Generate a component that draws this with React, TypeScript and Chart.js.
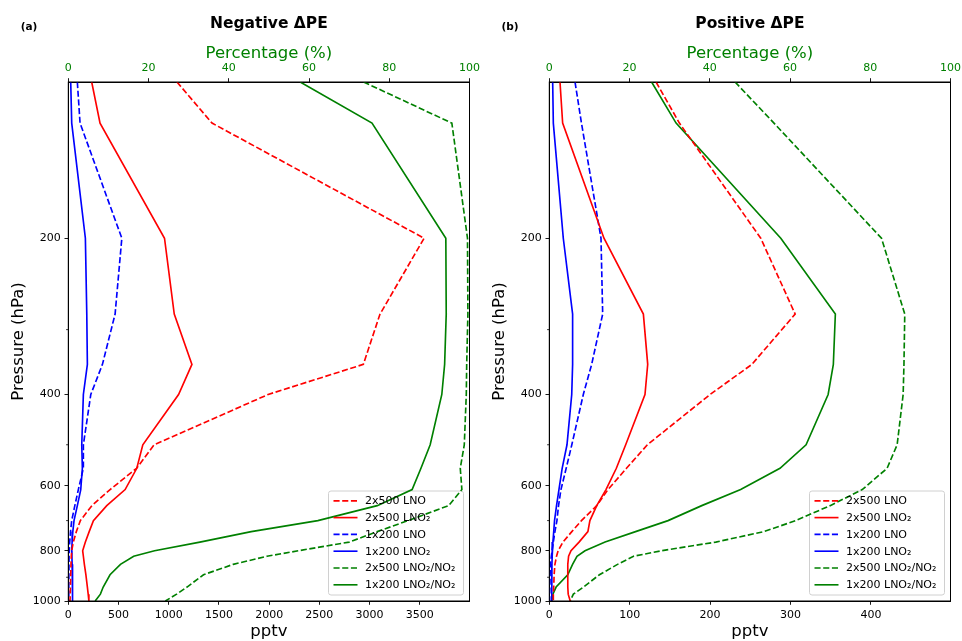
import React, { useEffect, useRef } from 'react';
import { Chart, registerables } from 'chart.js';

Chart.register(...registerables);

// Pressure levels (hPa) shared by every profile
const pressureLevels = [100, 120, 200, 280, 350, 400, 500, 555, 610, 655, 700, 735, 770, 800, 820, 850, 890, 940, 970, 1000];

// Panel (a) Negative ΔPE — pptv
const negLNO2x500 = [1082, 1431, 3543, 3104, 2938, 1990, 855, 680, 416, 235, 120, 80, 50, 34, 30, 27, 24, 21, 19, 17];
const negLNO2_2x500 = [233, 316, 958, 1055, 1231, 1098, 742, 682, 566, 383, 250, 208, 170, 143, 150, 160, 175, 190, 198, 205];
const negLNO1x200 = [90, 117, 533, 466, 340, 224, 150, 150, 100, 65, 34, 22, 14, 10, 8, 7, 6, 5, 5, 5];
const negLNO2_1x200 = [24, 34, 170, 184, 190, 150, 134, 140, 124, 90, 57, 45, 38, 34, 36, 38, 40, 42, 43, 44];
// Panel (a) — percentage
const negRatio2x500 = [73.6, 95.6, 99.5, 99.6, 99.3, 99.2, 98.7, 97.7, 98.1, 94.8, 84.7, 77, 70, 57.4, 49.5, 41.1, 33.7, 29.6, 27, 24.2];
const negRatio1x200 = [57.8, 75.7, 94.1, 94.2, 93.8, 93.1, 90.2, 87.9, 85.7, 77, 62.2, 45.6, 32.8, 21.5, 16.3, 13, 10.4, 8.7, 8, 6.7];

// Panel (b) Positive ΔPE — pptv
const posLNO2x500 = [132.8, 161.8, 263, 305.8, 252, 200, 122, 96, 73, 59, 40, 28, 17, 11, 9, 7, 6, 5.5, 5, 5];
const posLNO2_2x500 = [13.3, 16.6, 68, 117, 122.4, 119, 95, 83.4, 70.5, 59, 50.5, 48, 37, 27, 24, 23, 23, 23, 23.5, 26];
const posLNO1x200 = [32, 40, 64.3, 66.4, 52.7, 42.3, 28, 21, 14.5, 11.5, 9.5, 7, 5, 3.5, 2.5, 1.5, 1, 0.7, 0.5, 0.5];
const posLNO2_1x200 = [4.2, 5, 17.4, 29, 29, 27.9, 22, 16, 12, 9, 6.5, 5.5, 4.5, 3.7, 3.5, 3.3, 3.2, 3.1, 3, 3];
// Panel (b) — percentage
const posRatio2x500 = [46.3, 56, 82.8, 88.6, 88.4, 88.2, 86.7, 84.2, 78, 70, 61.4, 53.5, 41.5, 28, 21, 17, 12.5, 8.5, 6, 5.2];
const posRatio1x200 = [25.5, 31.6, 57.7, 71.3, 70.8, 69.5, 64, 57.5, 47.7, 38, 29.6, 21.5, 13.9, 8.9, 6.9, 5.8, 4.6, 1.7, 0.9, 0.6];

// Tick labels
const pptvTicksNeg = [0, 500, 1000, 1500, 2000, 2500, 3000, 3500];
const pptvTicksPos = [0, 100, 200, 300, 400];
const percentTicks = [0, 20, 40, 60, 80, 100];
const pressureTicks = [200, 400, 600, 800, 1000];
const pressureMinorTicks = [300, 500, 700, 900];
const seriesLabels = ['2x500 LNO', '2x500 LNO\u2082', '1x200 LNO', '1x200 LNO\u2082', '2x500 LNO\u2082/NO\u2082', '1x200 LNO\u2082/NO\u2082'];

const FONT = '"DejaVu Sans", sans-serif';
const LW = 1.65;
const DASH = [6.1, 2.6];

const seriesStyles = [
  { color: '#ff0000', dash: true, axis: 'x' },
  { color: '#ff0000', dash: false, axis: 'x' },
  { color: '#0000ff', dash: true, axis: 'x' },
  { color: '#0000ff', dash: false, axis: 'x' },
  { color: '#008000', dash: true, axis: 'x2' },
  { color: '#008000', dash: false, axis: 'x2' },
];

type PanelProps = {
  title: string;
  tag: string;
  series: number[][];
  pptvMax: number;
  pptvTicks: number[];
};

function Panel({ title, tag, series, pptvMax, pptvTicks }: PanelProps) {
  const ref = useRef<HTMLCanvasElement>(null);

  useEffect(() => {
    if (!ref.current) return;
    const datasets = series.map((vals, i) => ({
      label: seriesLabels[i],
      data: pressureLevels.map((p, k) => ({ x: vals[k], y: p })),
      borderColor: seriesStyles[i].color,
      backgroundColor: seriesStyles[i].color,
      borderWidth: LW,
      borderDash: seriesStyles[i].dash ? DASH : [],
      pointRadius: 0,
      fill: false,
      tension: 0,
      xAxisID: seriesStyles[i].axis,
      yAxisID: 'y',
    }));

    const legendBox = (ca: any) => {
      const w = 135;
      const h = 104;
      const right = ca.right - 6;
      const bottom = ca.bottom - 6;
      return { left: right - w, top: bottom - h, w, h };
    };

    const decor = {
      id: 'decor',
      beforeDatasetsDraw(chart: any) {
        const ctx = chart.ctx;
        const b = legendBox(chart.chartArea);
        ctx.save();
        ctx.beginPath();
        const r = 2.5;
        ctx.moveTo(b.left + r, b.top);
        ctx.arcTo(b.left + b.w, b.top, b.left + b.w, b.top + b.h, r);
        ctx.arcTo(b.left + b.w, b.top + b.h, b.left, b.top + b.h, r);
        ctx.arcTo(b.left, b.top + b.h, b.left, b.top, r);
        ctx.arcTo(b.left, b.top, b.left + b.w, b.top, r);
        ctx.closePath();
        ctx.fillStyle = 'rgba(255,255,255,0.8)';
        ctx.fill();
        ctx.strokeStyle = '#d0d0d0';
        ctx.lineWidth = 1;
        ctx.stroke();
        ctx.restore();
      },
      afterDraw(chart: any) {
        const ctx = chart.ctx;
        const ca = chart.chartArea;
        const cx = (ca.left + ca.right) / 2;
        ctx.save();
        // frame
        ctx.strokeStyle = '#000';
        ctx.lineWidth = 1;
        ctx.strokeRect(ca.left, ca.top, ca.right - ca.left, ca.bottom - ca.top);
        // minor ticks on pressure axis
        const ys = chart.scales.y;
        ctx.lineWidth = 0.8;
        pressureMinorTicks.forEach((p) => {
          const y = ys.getPixelForValue(p);
          ctx.beginPath();
          ctx.moveTo(ca.left, y);
          ctx.lineTo(ca.left - 2.2, y);
          ctx.stroke();
        });
        // legend handles and text
        const b = legendBox(ca);
        ctx.textBaseline = 'middle';
        ctx.textAlign = 'left';
        ctx.font = `11px ${FONT}`;
        seriesLabels.forEach((lab, i) => {
          const y = b.top + 9.8 + i * 16.8;
          ctx.beginPath();
          ctx.setLineDash(seriesStyles[i].dash ? DASH : []);
          ctx.strokeStyle = seriesStyles[i].color;
          ctx.lineWidth = LW;
          ctx.moveTo(b.left + 5, y);
          ctx.lineTo(b.left + 29, y);
          ctx.stroke();
          ctx.setLineDash([]);
          ctx.fillStyle = '#000';
          ctx.fillText(lab, b.left + 36.5, y + 0.5);
        });
        // titles
        ctx.textAlign = 'center';
        ctx.fillStyle = '#000';
        ctx.font = `bold 15.5px ${FONT}`;
        ctx.fillText(title, cx, 23.5);
        ctx.font = `bold 10.5px ${FONT}`;
        ctx.fillText(tag, 29, 27);
        ctx.font = `16.5px ${FONT}`;
        ctx.fillStyle = '#008000';
        ctx.fillText('Percentage (%)', cx, 53.5);
        ctx.fillStyle = '#000';
        ctx.fillText('pptv', cx, 631.5);
        ctx.translate(18.5, (ca.top + ca.bottom) / 2);
        ctx.rotate(-Math.PI / 2);
        ctx.fillText('Pressure (hPa)', 0, 0);
        ctx.restore();
      },
    };

    const tickFont = { family: FONT, size: 11 };
    const gridCfg = { display: true, drawOnChartArea: false, drawTicks: true, tickLength: 3.8, color: '#000', lineWidth: 0.9 };
    const borderCfg = { display: true, color: '#000', width: 1 };
    const zeroPad = (s: any) => {
      s.paddingLeft = 0;
      s.paddingRight = 0;
      s.paddingTop = 0;
      s.paddingBottom = 0;
    };

    const chart = new Chart(ref.current, {
      type: 'line',
      data: { datasets: datasets as any },
      plugins: [decor],
      options: {
        responsive: false,
        animation: false,
        indexAxis: 'y',
        layout: { padding: { left: 0, right: 11.5, top: 0, bottom: 0 } },
        plugins: { legend: { display: false }, tooltip: { enabled: false }, title: { display: false } },
        scales: {
          x: {
            type: 'linear',
            position: 'bottom',
            min: 0,
            max: pptvMax,
            afterBuildTicks: (s: any) => { s.ticks = pptvTicks.map((v) => ({ value: v })); },
            afterFit: (s: any) => { s.height = 40; zeroPad(s); },
            ticks: { font: tickFont, color: '#000', padding: 3.8, maxRotation: 0, autoSkip: false, callback: (v: any) => String(v) },
            grid: gridCfg,
            border: borderCfg,
          },
          x2: {
            type: 'linear',
            axis: 'x',
            position: 'top',
            min: 0,
            max: 100,
            afterBuildTicks: (s: any) => { s.ticks = percentTicks.map((v) => ({ value: v })); },
            afterFit: (s: any) => { s.height = 82; zeroPad(s); },
            ticks: { font: tickFont, color: '#008000', padding: 3.8, maxRotation: 0, autoSkip: false, callback: (v: any) => String(v) },
            grid: gridCfg,
            border: borderCfg,
          },
          y: {
            type: 'logarithmic',
            position: 'left',
            reverse: true,
            min: 100,
            max: 1000,
            afterBuildTicks: (s: any) => { s.ticks = pressureTicks.map((v) => ({ value: v })); },
            afterFit: (s: any) => { s.width = 68.3; zeroPad(s); },
            ticks: { font: tickFont, color: '#000', padding: 3.8, autoSkip: false, callback: (v: any) => String(v) },
            grid: gridCfg,
            border: borderCfg,
          },
        },
      } as any,
    });
    return () => chart.destroy();
  }, []);

  return <canvas ref={ref} width={481} height={641} style={{ width: 481, height: 641, display: 'block' }} />;
}

export default function App() {
  return (
    <div style={{ position: 'absolute', left: 0, top: 0, width: 962, height: 641, background: '#fff' }}>
      <div style={{ position: 'absolute', left: 0, top: 0 }}>
        <Panel
          title={'Negative \u0394PE'}
          tag="(a)"
          series={[negLNO2x500, negLNO2_2x500, negLNO1x200, negLNO2_1x200, negRatio2x500, negRatio1x200]}
          pptvMax={3995}
          pptvTicks={pptvTicksNeg}
        />
      </div>
      <div style={{ position: 'absolute', left: 481, top: 0 }}>
        <Panel
          title={'Positive \u0394PE'}
          tag="(b)"
          series={[posLNO2x500, posLNO2_2x500, posLNO1x200, posLNO2_1x200, posRatio2x500, posRatio1x200]}
          pptvMax={499}
          pptvTicks={pptvTicksPos}
        />
      </div>
    </div>
  );
}
